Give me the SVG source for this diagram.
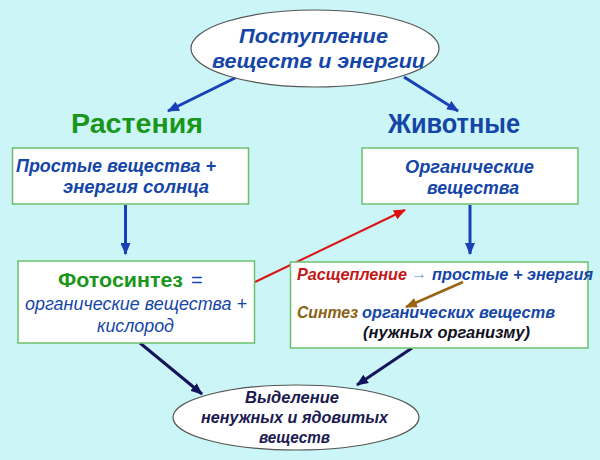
<svg xmlns="http://www.w3.org/2000/svg" width="600" height="460" viewBox="0 0 600 460">
<style>
text{font-family:"Liberation Sans",Arial,sans-serif;font-weight:bold;font-style:italic}
.box{fill:#ffffff;stroke:#6cc06c;stroke-width:1.5}
.ell{fill:#ffffff;stroke:#555555;stroke-width:1.2}
.blue{fill:#1446a8}
.green{fill:#1a961a;font-style:normal}
.navy{fill:#1a1a50}
.reg{font-weight:normal}
.c-blue{stroke:#1a40b8;stroke-width:3;fill:none}
.c-red{stroke:#dd1111;stroke-width:2;fill:none}
.c-brown{stroke:#9a6412;stroke-width:2.5;fill:none}
.c-navy{stroke:#14145a;stroke-width:3;fill:none}
</style>
<defs>
<marker id="ab" markerUnits="userSpaceOnUse" markerWidth="12" markerHeight="10" refX="11" refY="5" orient="auto"><path d="M0,0 L12,5 L0,10 z" fill="#1a40b8"/></marker>
<marker id="ar" markerUnits="userSpaceOnUse" markerWidth="12" markerHeight="10" refX="11" refY="5" orient="auto"><path d="M0,0 L12,5 L0,10 z" fill="#dd1111"/></marker>
<marker id="abr" markerUnits="userSpaceOnUse" markerWidth="12" markerHeight="10" refX="11" refY="5" orient="auto"><path d="M0,0 L12,5 L0,10 z" fill="#9a6412"/></marker>
<marker id="an" markerUnits="userSpaceOnUse" markerWidth="12" markerHeight="10" refX="11" refY="5" orient="auto"><path d="M0,0 L12,5 L0,10 z" fill="#14145a"/></marker>
</defs>
<rect x="0" y="0" width="600" height="460" fill="#cbf5f7"/>

<g id="connectors">
<line class="c-blue" x1="237" y1="77" x2="168" y2="111" marker-end="url(#ab)"/>
<line class="c-blue" x1="404" y1="77" x2="458" y2="111" marker-end="url(#ab)"/>
<line class="c-blue" x1="125.5" y1="205" x2="125.5" y2="254" stroke-width="2" marker-end="url(#ab)"/>
<line class="c-blue" x1="470" y1="205" x2="470" y2="254" stroke-width="2" marker-end="url(#ab)"/>
<line class="c-red" x1="255" y1="282" x2="405" y2="210" marker-end="url(#ar)"/>
<line class="c-navy" x1="140" y1="343" x2="202" y2="394" marker-end="url(#an)"/>
<line class="c-navy" x1="412" y1="348" x2="357" y2="385" stroke-width="2.2" marker-end="url(#an)"/>
</g>

<g id="top">
<ellipse class="ell" cx="315" cy="48.5" rx="124" ry="38.5"/>
<text class="blue" x="239" y="43" font-size="21" textLength="149" lengthAdjust="spacingAndGlyphs">Поступление</text>
<text class="blue" x="212" y="68" font-size="21" textLength="213" lengthAdjust="spacingAndGlyphs">веществ и энергии</text>
</g>

<g id="plants">
<text class="green" x="71" y="133" font-size="27" textLength="132" lengthAdjust="spacingAndGlyphs">Растения</text>
</g>

<g id="animals">
<text class="blue" x="388" y="133" font-size="27" style="font-style:normal" textLength="132" lengthAdjust="spacingAndGlyphs">Животные</text>
</g>

<g id="simple">
<rect class="box" x="12.5" y="148" width="236" height="56"/>
<text class="blue" x="16" y="172" font-size="17.5" textLength="200" lengthAdjust="spacingAndGlyphs">Простые вещества +</text>
<text class="blue" x="63" y="193" font-size="17.5" textLength="146" lengthAdjust="spacingAndGlyphs">энергия солнца</text>
</g>

<g id="organic">
<rect class="box" x="362" y="148" width="216" height="56"/>
<text class="blue" x="405" y="173" font-size="17.5" textLength="129" lengthAdjust="spacingAndGlyphs">Органические</text>
<text class="blue" x="427" y="194" font-size="17.5" textLength="92" lengthAdjust="spacingAndGlyphs">вещества</text>
</g>

<g id="photosynthesis">
<rect class="box" x="18" y="261" width="236.5" height="82"/>
<text class="green" x="58" y="287" font-size="21" textLength="125" lengthAdjust="spacingAndGlyphs">Фотосинтез</text>
<text class="blue reg" x="191" y="287" font-size="20" style="font-style:normal">=</text>
<text class="blue reg" x="25" y="310" font-size="18.5" textLength="222" lengthAdjust="spacingAndGlyphs">органические вещества +</text>
<text class="blue reg" x="97" y="332" font-size="18.5" textLength="77" lengthAdjust="spacingAndGlyphs">кислород</text>
</g>

<g id="splitting">
<rect class="box" x="290.5" y="262" width="297.5" height="86"/>
<text fill="#c41818" x="297" y="280" font-size="16.5" textLength="110" lengthAdjust="spacingAndGlyphs">Расщепление</text>
<text fill="#7aaee0" x="411" y="279" font-size="17" style="font-style:normal" textLength="16" lengthAdjust="spacingAndGlyphs">→</text>
<text class="blue" x="432" y="280" font-size="16.5" textLength="161" lengthAdjust="spacingAndGlyphs">простые + энергия</text>
<text fill="#8a6214" x="297" y="318" font-size="16.5" textLength="61" lengthAdjust="spacingAndGlyphs">Синтез</text>
<text class="blue" x="362" y="318" font-size="16.5" textLength="193" lengthAdjust="spacingAndGlyphs">органических веществ</text>
<text fill="#111122" x="363" y="338" font-size="16.5" textLength="167" lengthAdjust="spacingAndGlyphs">(нужных организму)</text>
<line class="c-brown" x1="463" y1="282" x2="406" y2="307" marker-end="url(#abr)"/>
</g>

<g id="excretion">
<ellipse class="ell" cx="296" cy="417.5" rx="123" ry="32.5"/>
<text class="navy" x="245" y="403" font-size="17" textLength="94" lengthAdjust="spacingAndGlyphs">Выделение</text>
<text class="navy" x="201" y="423" font-size="17" textLength="187" lengthAdjust="spacingAndGlyphs">ненужных и ядовитых</text>
<text class="navy" x="259" y="443" font-size="17" textLength="71" lengthAdjust="spacingAndGlyphs">веществ</text>
</g>
</svg>
